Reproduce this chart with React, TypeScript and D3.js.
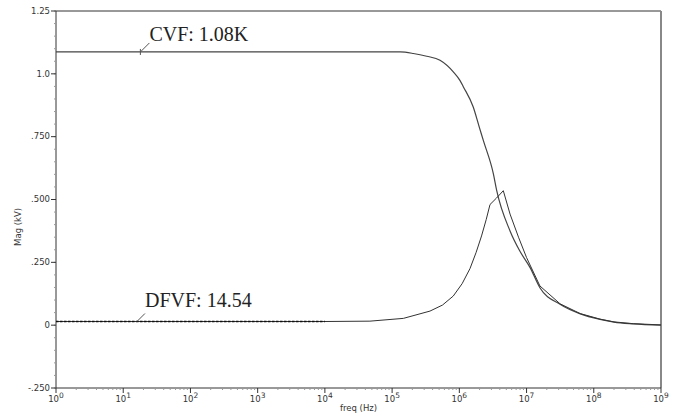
import React from "react";
import { scaleLog, scaleLinear, line, range, curveMonotoneX, curveLinear } from "d3";

// frequency points (Hz) and magnitudes (kV)
const cvfFreq = [1, 1e4, 1.32e5, 2.07e5, 3.27e5, 5.16e5, 8.13e5, 1.02e6, 1.15e6, 1.61e6, 1.98e6, 2.28e6, 3.21e6, 3.6e6, 5.68e6, 7.94e6, 1.13e7, 1.58e7, 3.15e7, 6.3e7, 1.24e8, 2.0e8, 3.87e8, 1e9];
const cvfMag = [1.087, 1.087, 1.087, 1.081, 1.07, 1.054, 1.008, 0.974, 0.948, 0.868, 0.788, 0.734, 0.602, 0.535, 0.375, 0.295, 0.229, 0.149, 0.083, 0.045, 0.023, 0.012, 0.005, 0.0];

const dfvfFreq = [1, 1e4, 4.68e4, 1.47e5, 3.66e5, 5.62e5, 8.13e5, 1.1e6, 1.44e6, 1.78e6, 2.14e6, 2.51e6, 2.86e6, 3.55e6, 4.51e6, 5.68e6, 7.59e6, 1.0e7, 1.58e7, 3.15e7, 6.3e7, 1.24e8, 2.0e8, 3.87e8, 1e9];
const dfvfMag = [0.01454, 0.01454, 0.016, 0.027, 0.056, 0.08, 0.116, 0.165, 0.225, 0.29, 0.355, 0.42, 0.48, 0.505, 0.535, 0.442, 0.35, 0.269, 0.156, 0.085, 0.046, 0.024, 0.013, 0.006, 0.001];

const yTicks = [1.25, 1.0, 0.75, 0.5, 0.25, 0, -0.25];
const yTickLabels = ["1.25", "1.0", ".750", ".500", ".250", "0", "-.250"];
const xDecades = [0, 1, 2, 3, 4, 5, 6, 7, 8, 9];

const Chart = () => {
  const width = 692;
  const height = 414;
  const margin = { top: 11, right: 31, bottom: 26, left: 56 };
  const innerWidth = width - margin.left - margin.right;
  const innerHeight = height - margin.top - margin.bottom;

  const xScale = scaleLog().domain([1, 1e9]).range([0, innerWidth]);
  const yScale = scaleLinear().domain([-0.25, 1.25]).range([innerHeight, 0]);

  const toPts = (f: number[], m: number[]) => f.map((d, i) => [d, m[i]] as [number, number]);
  const smooth = line<[number, number]>()
    .x((d) => xScale(d[0]))
    .y((d) => yScale(d[1]))
    .curve(curveMonotoneX);
  const straight = line<[number, number]>()
    .x((d) => xScale(d[0]))
    .y((d) => yScale(d[1]))
    .curve(curveLinear);

  const cvf = toPts(cvfFreq, cvfMag);
  const dfvf = toPts(dfvfFreq, dfvfMag);
  const dfvfFlat = dfvf.filter((d) => d[0] <= 1e4);

  const minorY = range(-0.25, 1.2501, 0.05);
  const minorX: number[] = [];
  xDecades.slice(0, -1).forEach((e) => {
    for (let k = 2; k <= 9; k++) minorX.push(k * Math.pow(10, e));
  });

  const tickFont = "DejaVu Sans, Verdana, sans-serif";

  const cvfAt = [xScale(18), yScale(1.087)];
  const dfvfAt = [xScale(16), yScale(0.01454)];

  return (
    <svg width={width} height={height} style={{ position: "absolute", left: 0, top: 0, background: "#fff" }}>
      <g transform={`translate(${margin.left},${margin.top})`}>
        {/* frame */}
        <line x1={0} x2={innerWidth} y1={0} y2={0} stroke="#333" strokeWidth={1} />
        <line x1={innerWidth} x2={innerWidth} y1={0} y2={innerHeight} stroke="#888" strokeWidth={2} />
        <line x1={0} x2={0} y1={0} y2={innerHeight} stroke="#333" strokeWidth={1} />
        <line x1={0} x2={innerWidth} y1={innerHeight} y2={innerHeight} stroke="#333" strokeWidth={1} />

        {/* y axis */}
        {minorY.map((v, i) => (
          <line key={"my" + i} x1={-2} x2={0} y1={yScale(v)} y2={yScale(v)} stroke="#999" />
        ))}
        {yTicks.map((v, i) => (
          <g key={"y" + i} transform={`translate(0,${yScale(v)})`}>
            <line x1={-5} x2={0} stroke="#333" />
            <text x={-6} dy="0.33em" textAnchor="end" fontFamily={tickFont} fontSize={8.5} fill="#333">
              {yTickLabels[i]}
            </text>
          </g>
        ))}
        <text
          transform={`translate(${-35},${(yScale(0.5) + yScale(0.25)) / 2 - 4}) rotate(-90)`}
          textAnchor="middle"
          fontFamily={tickFont}
          fontSize={8.5}
          fill="#333"
        >
          Mag (kV)
        </text>

        {/* x axis */}
        {minorX.map((f, i) => (
          <line key={"mx" + i} x1={xScale(f)} x2={xScale(f)} y1={innerHeight} y2={innerHeight + 2} stroke="#999" />
        ))}
        {xDecades.map((e) => (
          <g key={"x" + e} transform={`translate(${xScale(Math.pow(10, e))},${innerHeight})`}>
            <line y1={0} y2={5} stroke="#333" />
            <text y={14} textAnchor="middle" fontFamily={tickFont} fontSize={8.5} fill="#333">
              10
              <tspan dy={-4} fontSize={7.5}>
                {e}
              </tspan>
            </text>
          </g>
        ))}
        <text x={innerWidth / 2} y={innerHeight + 23} textAnchor="middle" fontFamily={tickFont} fontSize={8.5} fill="#333">
          freq (Hz)
        </text>

        {/* curves */}
        <path d={smooth(cvf) || ""} fill="none" stroke="#444" strokeWidth={1.2} />
        <path d={straight(dfvf) || ""} fill="none" stroke="#333" strokeWidth={1} />
        <path d={straight(dfvfFlat) || ""} fill="none" stroke="#111" strokeWidth={1.3} strokeDasharray="2.5,1.5" />

        {/* annotations */}
        <line x1={cvfAt[0]} y1={cvfAt[1]} x2={cvfAt[0] + 9} y2={cvfAt[1] - 9} stroke="#555" />
        <line x1={cvfAt[0]} y1={cvfAt[1] - 3} x2={cvfAt[0]} y2={cvfAt[1] + 3} stroke="#555" />
        <text x={cvfAt[0] + 9} y={cvfAt[1] - 11} fontFamily="Liberation Serif, Times New Roman, serif" fontSize={20} fill="#222">
          CVF: 1.08K
        </text>
        <line x1={dfvfAt[0]} y1={dfvfAt[1]} x2={dfvfAt[0] + 8} y2={dfvfAt[1] - 8} stroke="#555" />
        <text x={dfvfAt[0] + 8} y={dfvfAt[1] - 15} fontFamily="Liberation Serif, Times New Roman, serif" fontSize={20} fill="#222">
          DFVF: 14.54
        </text>
      </g>
    </svg>
  );
};

export default function App() {
  return <Chart />;
}
